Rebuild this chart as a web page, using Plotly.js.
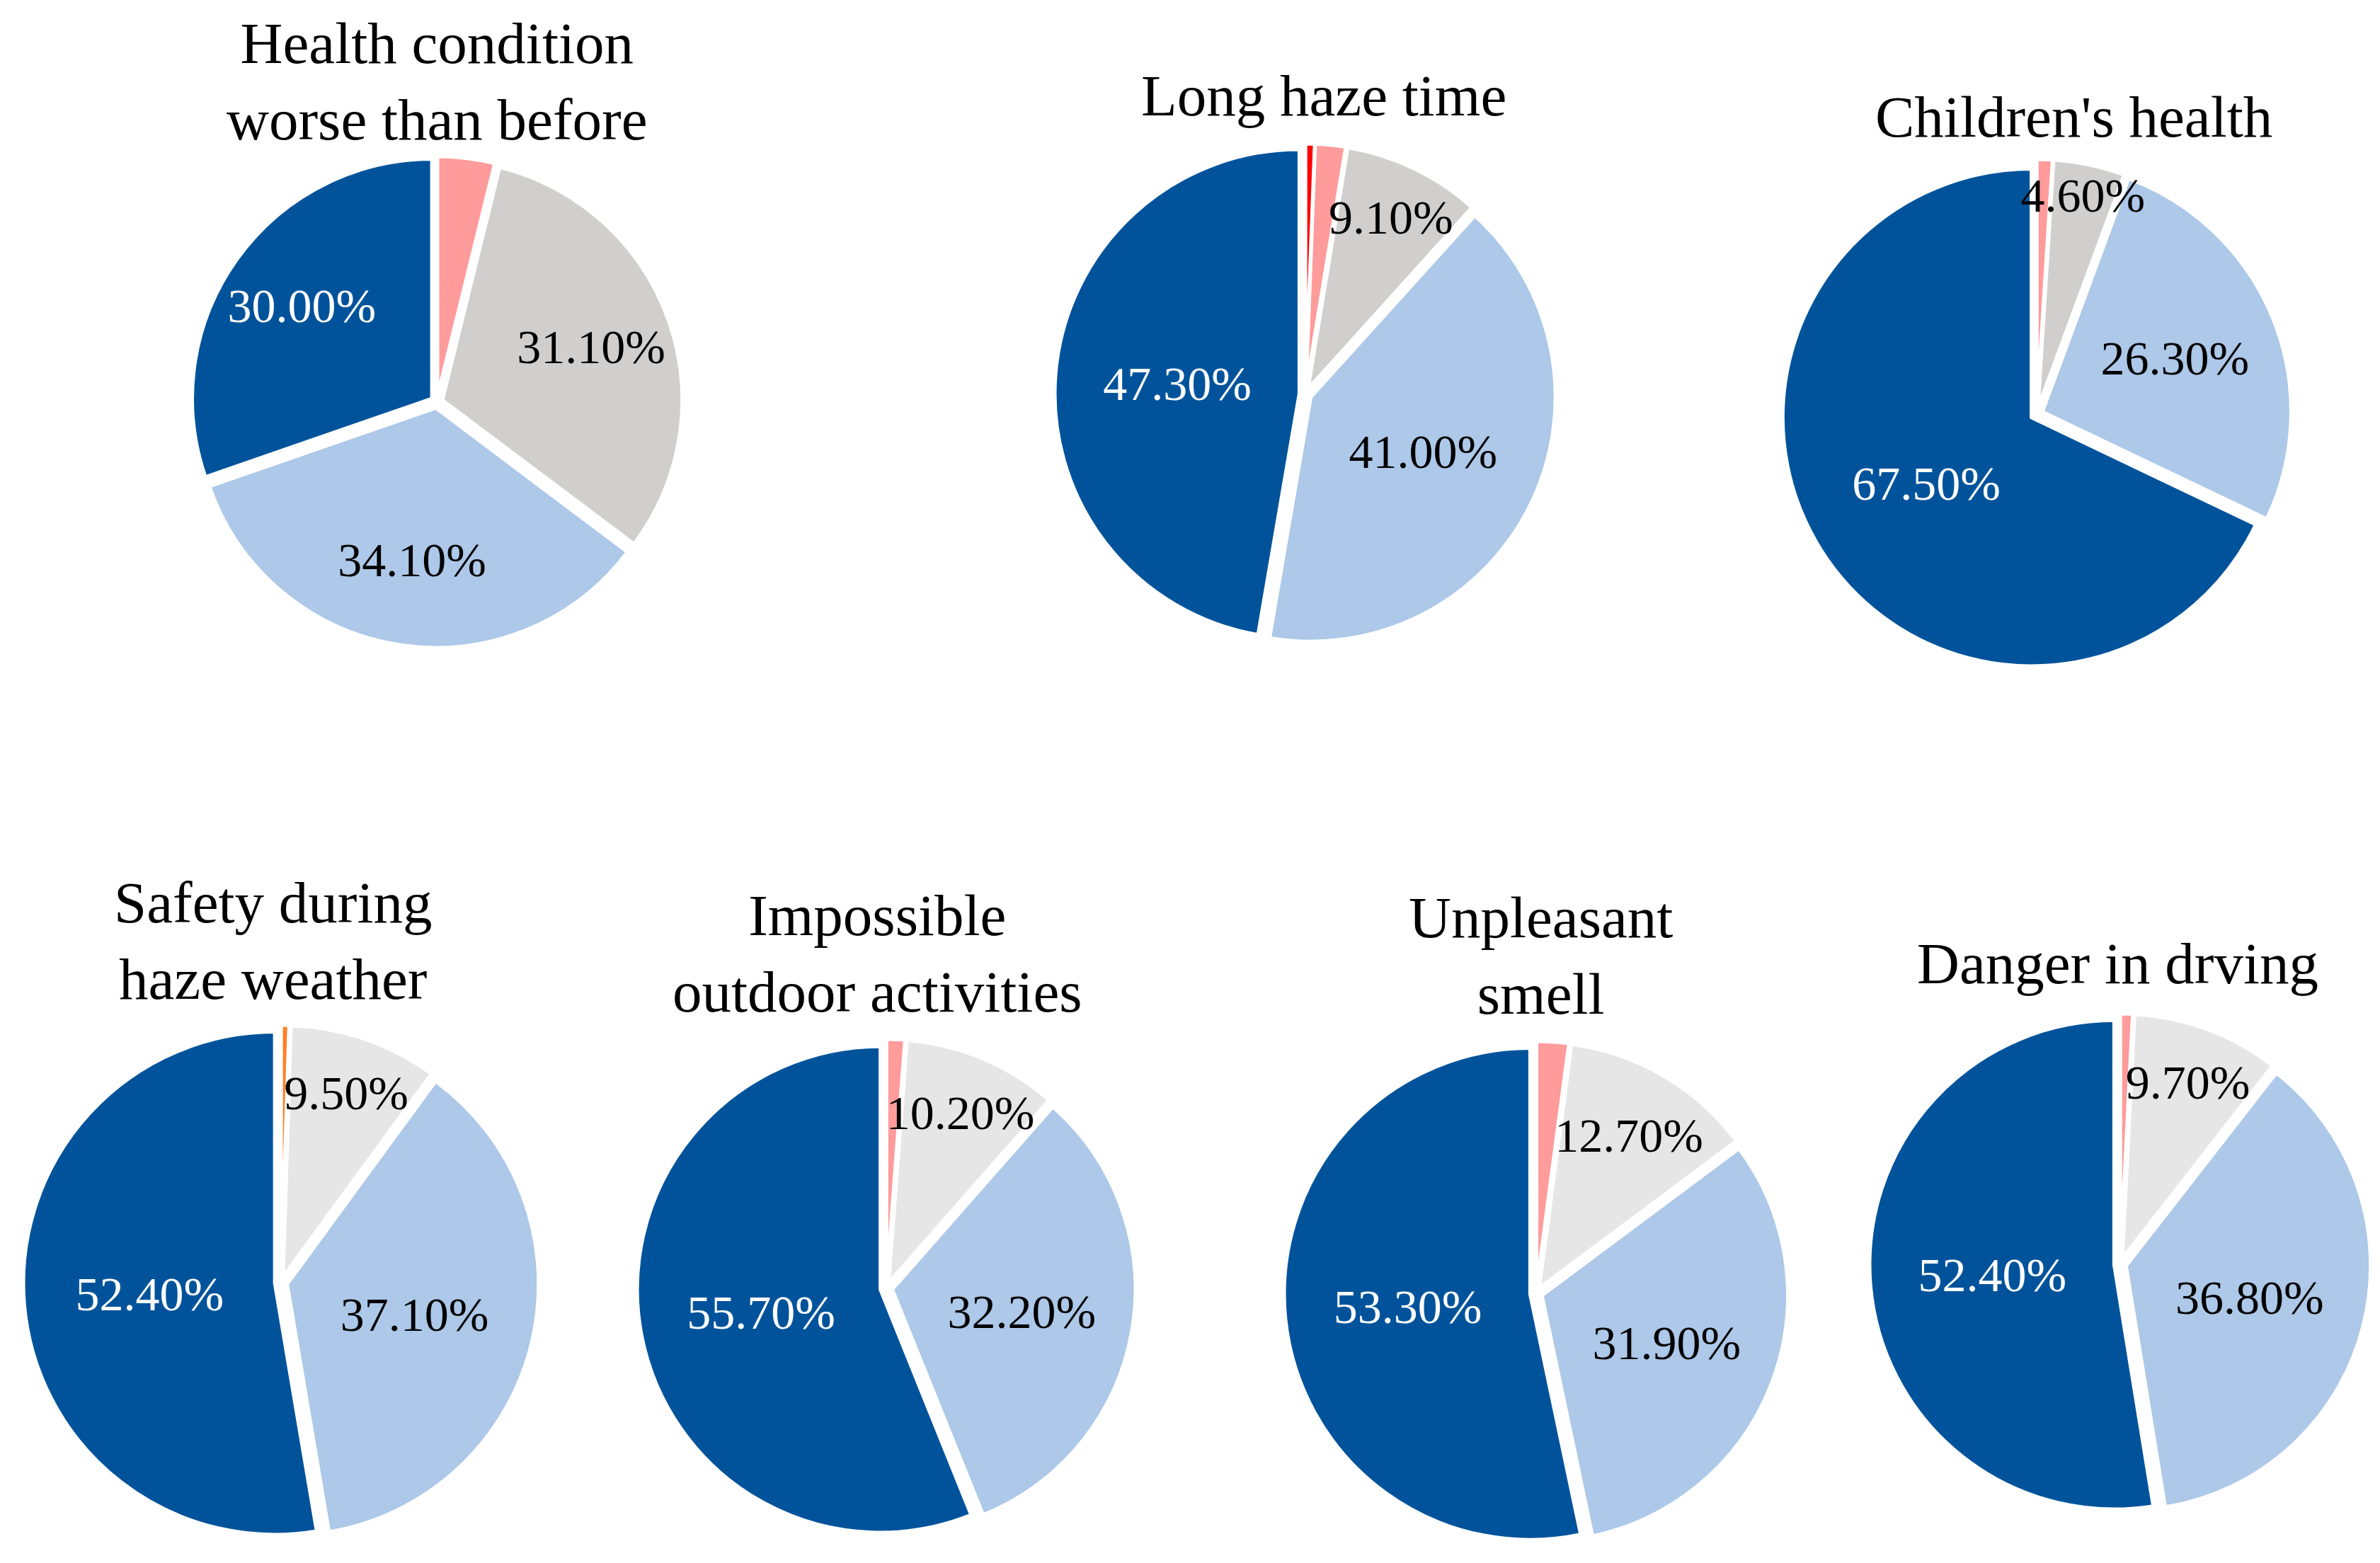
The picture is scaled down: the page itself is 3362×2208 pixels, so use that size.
<!DOCTYPE html>
<html>
<head>
<meta charset="utf-8">
<script src="https://cdn.plot.ly/plotly-3.0.1.min.js"></script>
<style>html,body{margin:0;padding:0;background:#fff;}#chart{width:3362px;height:2208px;}</style>
</head>
<body>
<div id="chart"></div>
<script>
// ---- data ----
const titles = [
  "Health condition<br>worse than before",
  "Long haze time",
  "Children's health",
  "Safety during<br>haze weather",
  "Impossible<br>outdoor activities",
  "Unpleasant<br>smell",
  "Danger in drving"
];
const categories = ["Red", "Orange", "Pink", "Grey", "Light blue", "Dark blue"];
const redVals    = [0,    0.6, 0,    0,    0,    0,    0];
const orangeVals = [0,    0,   0,    0.5,  0,    0,    0];
const pinkVals   = [3.8,  2.0, 1.0,  0,    1.2,  2.1,  0.8];
const greyVals   = [31.1, 9.1, 4.6,  9.5,  10.2, 12.7, 9.7];
const lightVals  = [34.1, 41.0, 26.3, 37.1, 32.2, 31.9, 36.8];
const darkVals   = [30.0, 47.3, 67.5, 52.4, 55.7, 53.3, 52.4];

// ---- layout / style (pixels in the 3362x2208 figure) ----
const W = 3362, H = 2208;
const centers = [[617,568],[1844,557],[2877,585],[397,1812],[1252,1820],[2170,1827],[2995,1786]];
const radii   = [347, 354, 360, 364, 352, 356, 354];
const labelScale = [1.2, 1, 1, 1, 1, 1, 1];
const titlePos = [[617,115],[1870,135],[2929,165],[386,1329],[1239,1347],[2176,1350],[2991,1361]];
const greyColors = ["#D0CFCD","#D0CFCD","#D0CFCD","#E6E6E6","#E6E6E6","#E6E6E6","#E6E6E6"];
const baseColors = {"Red":"#FF0000","Orange":"#FF7F27","Pink":"#FF9B9B","Light blue":"#ADC8E8","Dark blue":"#00539B"};
const FONT = "Liberation Serif, Times New Roman, serif";
const PULL = 0.025;

function dom(cx, cy, R) {
  return {x: [(cx - R) / W, (cx + R) / W], y: [1 - (cy + R) / H, 1 - (cy - R) / H]};
}

const pieTraces = [];
const textTraces = [];
const annotations = [];
for (let i = 0; i < titles.length; i++) {
  const all = [redVals[i], orangeVals[i], pinkVals[i], greyVals[i], lightVals[i], darkVals[i]];
  const vals = [], labs = [], cols = [], txt = [], tcol = [];
  all.forEach((v, k) => {
    if (v <= 0) return;
    const c = categories[k];
    vals.push(v); labs.push(c);
    cols.push(c === "Grey" ? greyColors[i] : baseColors[c]);
    const big = (c === "Grey" || c === "Light blue" || c === "Dark blue");
    txt.push(big ? v.toFixed(2) + "%" : "");
    tcol.push(c === "Dark blue" ? "#FFFFFF" : "#000000");
  });
  const [cx, cy] = centers[i];
  const R = radii[i];
  // coloured slices
  pieTraces.push({
    type: "pie",
    values: vals,
    labels: labs,
    textinfo: "none",
    sort: false,
    direction: "clockwise",
    rotation: 0,
    pull: PULL,
    marker: {colors: cols, line: {color: "#FFFFFF", width: 5}},
    hoverinfo: "none",
    showlegend: false,
    domain: dom(cx, cy, R)
  });
  // percentage labels, drawn on top of all slices
  textTraces.push({
    type: "pie",
    values: vals,
    labels: labs,
    text: txt,
    textinfo: "text",
    textposition: "inside",
    insidetextorientation: "horizontal",
    insidetextfont: {family: FONT, size: 68, color: tcol},
    sort: false,
    direction: "clockwise",
    rotation: 0,
    pull: PULL,
    marker: {colors: vals.map(() => "rgba(0,0,0,0)"), line: {width: 0}},
    hoverinfo: "none",
    showlegend: false,
    domain: dom(cx, cy, R * labelScale[i])
  });
  annotations.push({
    text: titles[i],
    xref: "paper", yref: "paper",
    x: titlePos[i][0] / W, y: 1 - titlePos[i][1] / H,
    xanchor: "center", yanchor: "middle",
    showarrow: false,
    font: {family: FONT, size: 83, color: "#000000"}
  });
}

const layout = {
  width: W, height: H,
  margin: {l: 0, r: 0, t: 0, b: 0},
  paper_bgcolor: "#FFFFFF",
  showlegend: false,
  uniformtext: {minsize: 68, mode: "show"},
  annotations: annotations
};
Plotly.newPlot("chart", pieTraces.concat(textTraces), layout, {displayModeBar: false, staticPlot: true});
</script>
</body>
</html>
